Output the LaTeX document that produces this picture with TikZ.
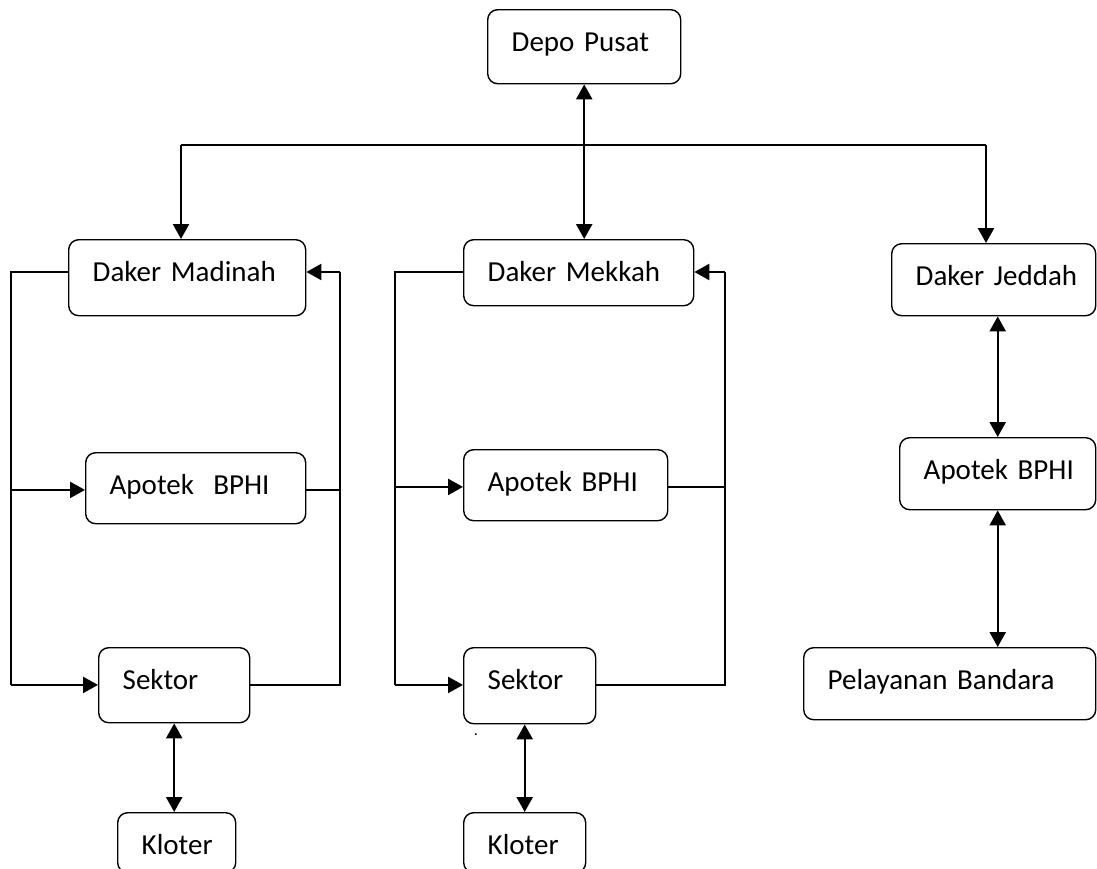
\documentclass[tikz,border=0pt]{standalone}
\usepackage{fontspec}
\setmainfont{Carlito}
\usetikzlibrary{arrows.meta, positioning, calc}

\begin{document}
\begin{tikzpicture}[x=0.5pt, y=-0.5pt,
  kotak/.style 2 args={draw, line width=0.7pt, rounded corners=5pt, anchor=north west, align=left,
    inner xsep=12pt, inner ysep=2pt, text height=19pt, text width=#1, text depth=#2,
    font=\fontsize{14.5pt}{17pt}\selectfont,
    execute at begin node={\hbox\bgroup}, execute at end node={\egroup}},
  garis/.style={line width=0.65pt},
  panah/.style={line width=1.2pt, -{Triangle[length=7.5pt, width=8pt]}},
  duapanah/.style={line width=1.2pt, {Triangle[length=7.5pt, width=8pt]}-{Triangle[length=7.5pt, width=8pt]}}]
  \useasboundingbox (0,0) rectangle (1097,868);

  \node[kotak={72.5pt}{14pt}] (depo) at (487,9) {Depo Pusat};
  \node[kotak={94.5pt}{15pt}] (madinah) at (68,239) {Daker Madinah};
  \node[kotak={91pt}{10pt}] (mekkah) at (463,239) {Daker Mekkah};
  \node[kotak={78pt}{13pt}] (jeddah) at (891,243) {Daker Jeddah};
  \node[kotak={86pt}{12.5pt}] (apotekA) at (85,452) {Apotek~~BPHI};
  \node[kotak={78pt}{12.5pt}] (apotekB) at (463,449) {Apotek BPHI};
  \node[kotak={74pt}{13pt}] (apotekC) at (899,437) {Apotek BPHI};
  \node[kotak={51.5pt}{14.5pt}] (sektorA) at (98,647) {Sektor};
  \node[kotak={42pt}{15pt}] (sektorB) at (463,647) {Sektor};
  \node[kotak={122pt}{13pt}] (bandara) at (803,647) {Pelayanan Bandara};
  \node[kotak={35pt}{7pt}] (kloterA) at (117,812) {Kloter};
  \node[kotak={37pt}{7pt}] (kloterB) at (463,812) {Kloter};
  \node[font=\fontsize{8pt}{8pt}\selectfont, inner sep=0pt] (titik) at (476,735) {.};

  % pusat ke daker
  \coordinate (busL) at (181,145);
  \coordinate (busR) at (986,145);
  \draw[garis] (busL) -- (busR);
  \draw[panah] (busL) -- (busL |- madinah.north);
  \draw[panah] (busR) -- (busR |- jeddah.north);
  \draw[duapanah] (depo.south) -- (depo.south |- mekkah.north);

  % madinah
  \coordinate (kiriA) at (11,272);
  \coordinate (kananA) at (340,272);
  \draw[garis] (kiriA -| madinah.west) -- (kiriA) -- (kiriA |- sektorA.mid west);
  \draw[panah] (kiriA |- sektorA.mid west) -- (sektorA.mid west);
  \draw[panah] (kiriA |- apotekA.mid west) -- (apotekA.mid west);
  \draw[garis] (sektorA.mid east) -| (kananA);
  \draw[garis] (apotekA.mid east) -- (kananA |- apotekA.mid east);
  \draw[panah] (kananA) -- (kananA -| madinah.east);
  \draw[duapanah] (sektorA.south) -- (sektorA.south |- kloterA.north);

  % mekkah
  \coordinate (kiriB) at (395,272);
  \coordinate (kananB) at (725,272);
  \draw[garis] (kiriB -| mekkah.west) -- (kiriB) -- (kiriB |- sektorB.mid west);
  \draw[panah] (kiriB |- sektorB.mid west) -- (sektorB.mid west);
  \draw[panah] (kiriB |- apotekB.mid west) -- (apotekB.mid west);
  \draw[garis] (sektorB.mid east) -| (kananB);
  \draw[garis] (apotekB.mid east) -- (kananB |- apotekB.mid east);
  \draw[panah] (kananB) -- (kananB -| mekkah.east);
  \draw[duapanah] (kloterB.north |- sektorB.south) -- (kloterB.north);

  % jeddah
  \draw[duapanah] (apotekC.north |- jeddah.south) -- (apotekC.north);
  \draw[duapanah] (apotekC.south) -- (apotekC.south |- bandara.north);
\end{tikzpicture}
\end{document}
